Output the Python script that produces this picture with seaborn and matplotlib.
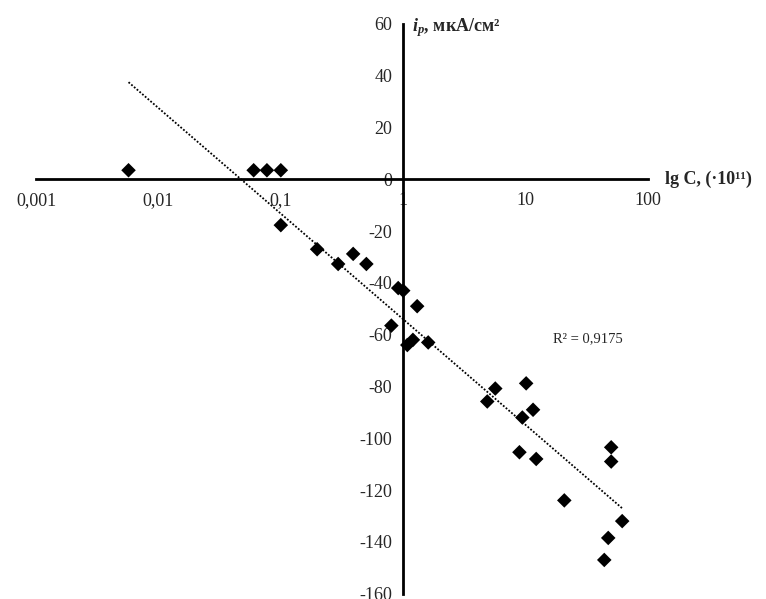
import numpy as np
import pandas as pd
import seaborn as sns
import matplotlib.pyplot as plt
from matplotlib.transforms import blended_transform_factory

# Данные
conc = [0.0057, 0.060, 0.077, 0.100, 0.100, 0.198, 0.294, 0.39, 0.50,
        0.91, 1.00, 1.30, 0.80, 1.08, 1.20, 1.60,
        5.65, 4.86, 10.1, 11.5, 9.4, 8.9, 12.2, 50.0, 50.0, 20.7,
        61.5, 47.3, 43.9]
tok = [3.5, 3.5, 3.5, 3.5, -17.7, -27.0, -32.7, -28.8, -32.7,
       -42.0, -43.0, -49.0, -56.5, -64.0, -62.0, -63.0,
       -80.8, -85.8, -78.8, -89.0, -92.0, -105.4, -108.0, -103.5, -109.0, -124.0,
       -132.0, -138.5, -147.0]

x_ticks = [0.001, 0.01, 0.1, 1, 10, 100]
x_labels = ["0,001", "0,01", "0,1", "1", "10", "100"]
y_ticks = list(range(-160, 61, 20))
r2_text = "R² = 0,9175"

df = pd.DataFrame({"C": conc, "i": tok})

sns.set_style("white")
plt.rcParams["font.family"] = ["Liberation Serif", "DejaVu Serif"]
plt.rcParams["mathtext.fontset"] = "custom"
plt.rcParams["mathtext.rm"] = "Liberation Serif:bold"
plt.rcParams["mathtext.it"] = "Liberation Serif:italic:bold"
plt.rcParams["mathtext.bf"] = "Liberation Serif:bold"

fig = plt.figure(figsize=(7.66, 5.99), dpi=100)
ax = fig.add_axes([0.047, 0.009, 0.799, 0.951])

sns.regplot(data=df, x="C", y="i", logx=True, ci=None, ax=ax,
            marker="D", color="black",
            scatter_kws={"s": 55, "edgecolor": "none", "alpha": 1, "zorder": 3},
            line_kws={"color": "black", "linestyle": (0, (1, 1)), "linewidth": 1.3})

ax.set_xscale("log")
ax.set_xlim(0.001, 100)
ax.set_ylim(-160, 60)

# оси пересекаются в точке (1; 0)
ax.spines["left"].set_position(("data", 1))
ax.spines["bottom"].set_position(("data", 0))
ax.spines["right"].set_visible(False)
ax.spines["top"].set_visible(False)
for s in ["left", "bottom"]:
    ax.spines[s].set_linewidth(2)
    ax.spines[s].set_color("black")

ax.set_xticks(x_ticks)
ax.set_xticklabels(x_labels)
ax.xaxis.set_minor_locator(plt.NullLocator())
ax.set_yticks(y_ticks)
ax.set_yticklabels([str(v) for v in y_ticks])
ax.tick_params(axis="x", direction="in", length=5, width=2, pad=9, labelsize=13)
ax.tick_params(axis="y", direction="out", length=5, width=2, pad=3, labelsize=13)
ax.set_xlabel("")
ax.set_ylabel("")

trans = blended_transform_factory(ax.transAxes, ax.transData)
ax.text(1.028, 0, "lg C, (·10¹¹)", transform=trans, ha="left", va="center",
        fontsize=13, fontweight="bold", clip_on=False)
ax.text(1.17, 58.5, r"$i_p$, мкА/см²", ha="left", va="center",
        fontsize=13, fontweight="bold", clip_on=False)
ax.text(16.8, -61.5, r2_text, ha="left", va="center", fontsize=10.5)

fig.savefig("out.png", dpi=100)
